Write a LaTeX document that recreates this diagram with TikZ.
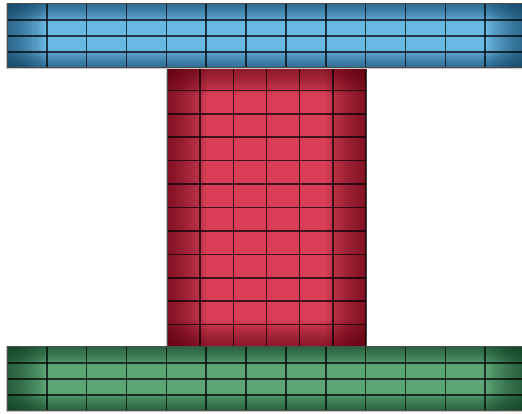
\documentclass[tikz,border=0pt]{standalone}
\definecolor{blueBase}{HTML}{6AB8E4}
\definecolor{blueDark}{HTML}{0E3D5C}
\definecolor{redBase}{HTML}{D94058}
\definecolor{redDark}{HTML}{55000C}
\definecolor{greenBase}{HTML}{5CA676}
\definecolor{greenDark}{HTML}{0E3A20}
\tikzset{
  gridline/.style={draw=black, draw opacity=0.7, line width=1.6pt},
  outerline/.style={draw=black!70, line width=1pt},
  haloline/.style={draw=black!22, line width=2.4pt},
}
% #1 x1, #2 y1, #3 x2, #4 y2, #5 base, #6 dark, #7 side width, #8 top width, #9 cols
\newcommand\panelbox[9]{%
  \draw[haloline] (#1,#2) rectangle (#3,#4);
  \fill[#5] (#1,#2) rectangle (#3,#4);
  \foreach \k in {1,...,18} {
    \fill[#6, fill opacity=0.05] (#1,#2) rectangle ({#1+#7*\k/18},#4);
    \fill[#6, fill opacity=0.05] ({#3-#7*\k/18},#2) rectangle (#3,#4);
    \fill[#6, fill opacity=0.045] (#1,#2) rectangle (#3,{#2+#8*\k/18});
    \fill[#6, fill opacity=0.045] (#1,{#4-#8*\k/18}) rectangle (#3,#4);
  }
  \pgfmathtruncatemacro\ncols{#9}
  \foreach \i in {1,...,\ncols} {
    \draw[gridline] ({#1+\i*(#3-#1)/#9},#2) -- ({#1+\i*(#3-#1)/#9},#4);
  }
}
\newcommand\panelrows[5]{% #1 x1 #2 y1 #3 x2 #4 y2 #5 rows
  \pgfmathtruncatemacro\nrows{#5-1}
  \foreach \j in {1,...,\nrows} {
    \draw[gridline] (#1,{#2+\j*(#4-#2)/#5}) -- (#3,{#2+\j*(#4-#2)/#5});
  }
  \draw[outerline] (#1,#2) rectangle (#3,#4);
}
\begin{document}
\begin{tikzpicture}[x=1pt,y=1pt]
\useasboundingbox (0,0) rectangle (522,414);
\fill[white] (0,0) rectangle (522,414);
\clip (0,0) rectangle (522,414);
% red column
\panelbox{167}{66}{366}{347}{redBase}{redDark}{40}{28}{6}
\panelrows{167}{66}{366}{347}{12}
% blue top slab
\panelbox{7}{346}{525}{410}{blueBase}{blueDark}{38}{18}{13}
\panelrows{7}{346}{525}{410}{4}
% green bottom slab
\panelbox{7}{3}{525}{67}{greenBase}{greenDark}{38}{18}{13}
\panelrows{7}{3}{525}{67}{4}
\end{tikzpicture}
\end{document}
